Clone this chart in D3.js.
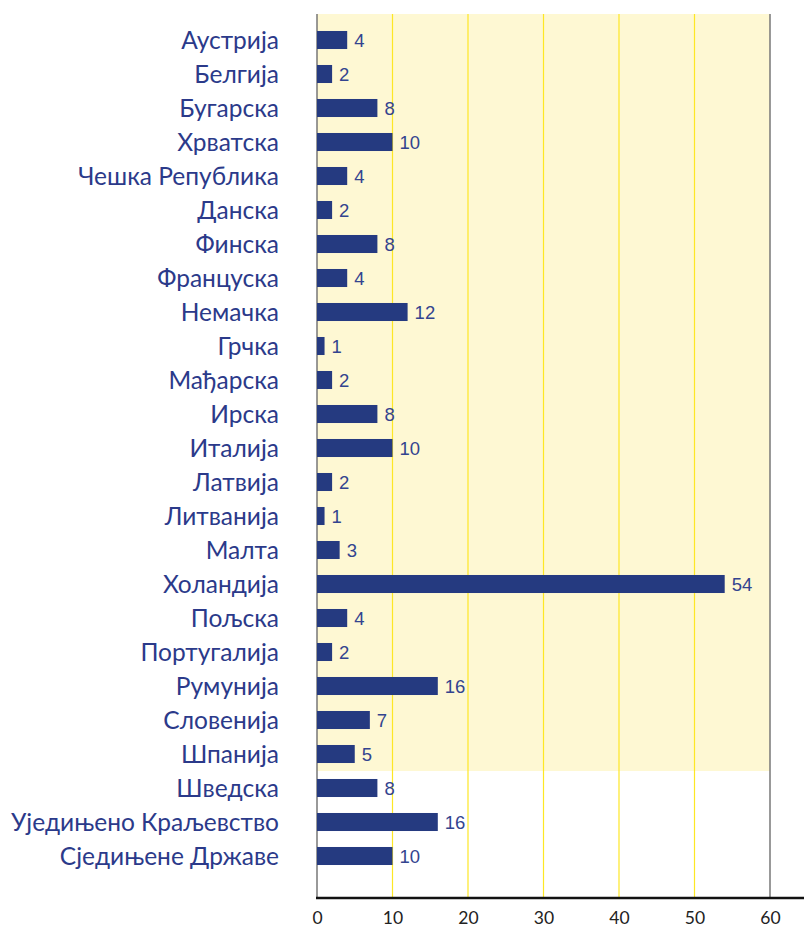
<!DOCTYPE html>
<html>
<head>
<meta charset="utf-8">
<script src="https://cdn.jsdelivr.net/npm/d3@7"></script>
<style>
  body { margin: 0; background: #fff; }
  text { font-family: Lato, "Open Sans", "Noto Sans", sans-serif; }
  .value { font-family: "Liberation Sans", Arial, sans-serif; }
</style>
</head>
<body>
<div id="chart"></div>
<script>
var width = 804;
var height = 930;

// data
var countries = ["Аустрија", "Белгија", "Бугарска", "Хрватска", "Чешка Република", "Данска",
  "Финска", "Француска", "Немачка", "Грчка", "Мађарска", "Ирска", "Италија", "Латвија",
  "Литванија", "Малта", "Холандија", "Пољска", "Португалија", "Румунија", "Словенија",
  "Шпанија", "Шведска", "Уједињено Краљевство", "Сједињене Државе"];
var values = [4, 2, 8, 10, 4, 2, 8, 4, 12, 1, 2, 8, 10, 2, 1, 3, 54, 4, 2, 16, 7, 5, 8, 16, 10];
var shadedCount = 22; // first 22 rows (EU) shaded
var xTicks = [0, 10, 20, 30, 40, 50, 60];

var blue = "#253a80";
var textBlue = "#2b3a8a";

var svg = d3.select("#chart")
  .append("svg")
  .attr("width", width)
  .attr("height", height);

var xScale = d3.scaleLinear().domain([0, 60]).range([317, 770]);
var yScale = d3.scaleBand().domain(countries).range([23, 873]).paddingInner(0.47).paddingOuter(0.235);

var plotTop = 14;
var plotBottom = 898;

// shaded band behind the first rows
var shadeBottom = yScale(countries[shadedCount - 1]) + yScale.bandwidth() + (yScale.step() - yScale.bandwidth()) / 2;
svg.append("rect")
  .attr("x", xScale(0))
  .attr("y", plotTop)
  .attr("width", xScale(60) - xScale(0))
  .attr("height", shadeBottom - plotTop)
  .attr("fill", "#fef8d3");

// gridlines
svg.append("g")
  .selectAll("line")
  .data(xTicks.filter(function (d) { return d > 0 && d < 60; }))
  .enter()
  .append("line")
  .attr("x1", function (d) { return xScale(d); })
  .attr("x2", function (d) { return xScale(d); })
  .attr("y1", plotTop)
  .attr("y2", plotBottom)
  .attr("stroke", "#fde725")
  .attr("stroke-width", 1.2);

// left and right frame lines
svg.append("line")
  .attr("x1", xScale(0)).attr("x2", xScale(0))
  .attr("y1", plotTop).attr("y2", plotBottom)
  .attr("stroke", "#777").attr("stroke-width", 1.5);
svg.append("line")
  .attr("x1", xScale(60)).attr("x2", xScale(60))
  .attr("y1", plotTop).attr("y2", plotBottom)
  .attr("stroke", "#777").attr("stroke-width", 1.5);

// bars
svg.append("g")
  .selectAll("rect")
  .data(values)
  .enter()
  .append("rect")
  .attr("x", xScale(0))
  .attr("y", function (d, i) { return yScale(countries[i]); })
  .attr("width", function (d) { return xScale(d) - xScale(0); })
  .attr("height", yScale.bandwidth())
  .attr("fill", blue);

// value labels
svg.append("g")
  .selectAll("text")
  .data(values)
  .enter()
  .append("text")
  .attr("class", "value")
  .attr("x", function (d) { return xScale(d) + 7; })
  .attr("y", function (d, i) { return yScale(countries[i]) + yScale.bandwidth() / 2; })
  .attr("dy", "0.36em")
  .attr("font-size", "18.5px")
  .attr("fill", "#33448f")
  .text(function (d) { return d; });

// category labels
var yAxis = d3.axisLeft(yScale).tickSize(0).tickPadding(0);
var yG = svg.append("g")
  .attr("transform", "translate(279,0)")
  .call(yAxis);
yG.select(".domain").remove();
yG.selectAll("text")
  .attr("font-size", "24.5px")
  .attr("fill", textBlue)
  .attr("dy", "0.36em");

// bottom axis
svg.append("line")
  .attr("x1", xScale(0) - 1).attr("x2", width)
  .attr("y1", plotBottom).attr("y2", plotBottom)
  .attr("stroke", "#111").attr("stroke-width", 2.5);

var xAxis = d3.axisBottom(xScale).tickValues(xTicks).tickSize(0).tickPadding(0);
var xG = svg.append("g")
  .attr("transform", "translate(0," + plotBottom + ")")
  .call(xAxis);
xG.select(".domain").remove();
xG.selectAll("text")
  .attr("font-size", "17.5px")
  .attr("fill", "#222")
  .attr("y", 14)
  .attr("dy", "0.71em");
</script>
</body>
</html>
